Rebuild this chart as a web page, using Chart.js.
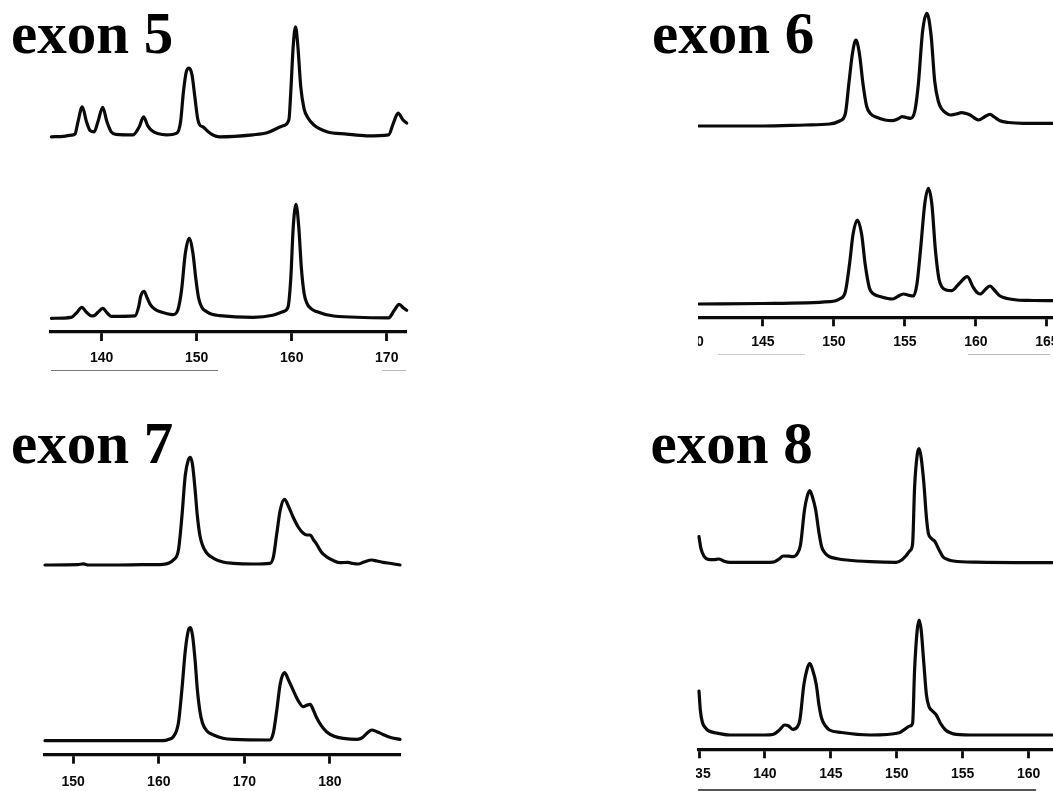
<!DOCTYPE html>
<html><head><meta charset="utf-8">
<script src="https://cdn.jsdelivr.net/npm/chart.js@4.4.1/dist/chart.umd.min.js"></script>
<style>
html,body{margin:0;padding:0;background:#fff;overflow:hidden;width:1053px;height:791px;}
.panel{position:absolute;overflow:hidden;}
.panel canvas{position:absolute;}
.title{position:absolute;font:bold 59px "Liberation Serif","Times New Roman",serif;line-height:59px;color:#000;white-space:nowrap;}
.scan{position:absolute;height:1px;background:#999;}
</style></head><body>

<div class="title" style="left:11px;top:3.9px">exon 5</div>
<div class="title" style="left:652px;top:3.9px">exon 6</div>
<div class="title" style="left:11px;top:413.9px">exon 7</div>
<div class="title" style="left:650.5px;top:413.9px">exon 8</div>

<div class="scan" style="left:51px;top:370px;width:167px;background:#777"></div>
<div class="scan" style="left:382px;top:370px;width:24px;background:#bbb"></div>
<div class="scan" style="left:718px;top:354px;width:87px;background:#ccc"></div>
<div class="scan" style="left:968px;top:354px;width:82px;background:#bbb"></div>
<div class="scan" style="left:698px;top:789px;width:338px;height:2px;background:#555"></div>

<div class="panel" id="p5" style="left:0;top:0;width:420px;height:395px"><canvas id="c5" width="420" height="395" style="left:0;top:0"></canvas></div>
<div class="panel" id="p6" style="left:698px;top:0;width:355px;height:395px"><canvas id="c6" width="409" height="395" style="left:-26.3px;top:0"></canvas></div>
<div class="panel" id="p7" style="left:0;top:400px;width:420px;height:391px"><canvas id="c7" width="420" height="391" style="left:0;top:0"></canvas></div>
<div class="panel" id="p8" style="left:695.5px;top:400px;width:357.5px;height:391px"><canvas id="c8" width="396" height="391" style="left:-16.5px;top:0"></canvas></div>

<script>
// ---------- DATA (fragment size in bp vs. relative signal) ----------
// exon 5
const e5Ticks = [140, 150, 160, 170];
const e5UpperX = [134.7,136.0,136.8,137.2,137.5,137.95,138.4,138.8,139.2,139.6,140.1,140.55,141.0,141.5,143.3,143.95,144.4,144.85,145.3,146.0,146.8,147.9,148.3,148.6,148.9,149.2,149.5,149.8,150.1,150.3,150.7,151.1,151.5,152.4,155.9,157.4,159.1,159.7,159.9,160.15,160.4,160.65,160.95,161.3,161.7,162.3,163.7,165.8,167.9,170.2,170.7,171.2,171.7,172.1];
const e5UpperY = [0,0.5,1.7,3,15,30,15,6,5,15,29.5,15,5,2.5,2,10,20,11,6,3,2,3.7,15,45,65,68.7,62,40,18,12,9.7,6,3,0,2,4,11,17,45,90,110,90,50,28,19,12,5,2.7,1,2,13.7,23.7,17,13.7];
const e5LowerX = [134.7,136.8,137.4,137.9,138.4,138.9,139.2,139.6,140.1,140.6,141.0,143.5,143.9,144.1,144.45,144.8,145.1,145.6,146.1,147.5,148.0,148.4,148.8,149.2,149.6,149.9,150.2,150.6,151.0,151.6,152.4,155.9,158.0,159.1,159.6,159.9,160.15,160.45,160.75,161.0,161.3,161.6,162.0,162.6,164.4,170.2,170.8,171.3,171.8,172.1];
const e5LowerY = [0,1,6,11,6,2.5,2.7,6,10,5,2,2.5,12,22,27,20,14,9,6.7,3.7,8,28,65,80,65,40,20,10,7,4,2.7,1,3,6.7,11,40,90,114,90,52,25,15,10,6.7,2.3,0.5,8,14,10,8];

// exon 6
const e6Ticks = [140, 145, 150, 155, 160, 165];
const e6UpperX = [140.46,145.0,148.0,149.7,150.4,150.8,151.05,151.3,151.55,151.8,152.05,152.3,152.6,153.0,153.6,154.1,154.5,154.8,155.1,155.4,155.7,155.95,156.25,156.55,156.85,157.1,157.35,157.6,157.9,158.2,158.6,159.0,159.3,159.6,159.9,160.2,160.6,161.0,161.3,161.7,162.3,163.35,165.44];
const e6UpperY = [0,0,1,2,5,12,42,72,86,72,42,20,12,8.7,6,5.3,7,9.3,8.5,7.7,15,42,95,112.7,90,45,25,17,13,11,12,13.3,12.5,11,8,6,9,11.7,9,5.3,3.5,2.7,2.7];
const e6LowerX = [140.46,145.0,149.7,150.4,150.8,151.1,151.35,151.65,151.95,152.2,152.5,152.8,153.3,154.1,154.5,154.9,155.2,155.6,155.85,156.1,156.4,156.65,156.9,157.15,157.4,157.6,157.9,158.3,158.8,159.4,159.8,160.05,160.3,160.7,161.0,161.3,161.7,162.2,162.9,164.0,165.44];
const e6LowerY = [0,0.5,2.3,5,12,40,70,84,70,40,16,10,7.3,5,7.5,10,9,8,20,54,100,115.7,100,54,25,17.3,14,13.3,20,27.3,17,12,10,15,18,14,8,5.5,4,3.5,3.3];

// exon 7
const e7Ticks = [150, 160, 170, 180];
const e7UpperX = [146.7,150.5,151.2,151.8,155.0,158.0,160.5,161.2,161.7,162.3,162.7,163.1,163.45,163.7,163.95,164.25,164.5,164.8,165.1,165.6,166.4,167.5,168.7,171.0,173.0,173.4,173.8,174.2,174.7,175.2,175.7,176.3,176.9,177.3,177.7,178.1,178.4,179.0,179.6,180.4,181.2,182.1,182.7,183.3,184.0,184.9,185.5,186.2,187.2,188.2];
const e7UpperY = [0,0.3,1.2,0,0,0.3,0.7,2,5,15,48,90,105,107.7,100,75,50,30,20,12,6.7,3,1.7,1,1.7,8,31.7,55,65.7,58,48,38,31.7,30,30,25,21.7,13,8.3,4.5,2.3,2.7,1.5,1,3,5,4,2.7,1.5,0];
const e7LowerX = [146.7,153.0,158.0,160.5,161.2,161.7,162.3,162.7,163.1,163.45,163.7,163.95,164.25,164.5,164.8,165.1,165.6,166.4,167.5,168.7,173.0,173.4,173.8,174.2,174.7,175.2,175.7,176.3,176.9,177.3,177.7,178.1,178.4,179.0,179.6,180.5,181.6,183.2,183.8,184.4,184.9,185.5,186.2,187.2,188.2];
const e7LowerY = [0,0,0,0,1.5,4,18,50.7,90,110,113,105,80,52,30,18,10,5.7,2.5,1.3,0.7,8,30.7,57,68,60,50.7,40,34,35.5,36.3,30,24,15,9,4.5,2.3,1.3,3,8,10.7,9,6.3,3,1.3];

// exon 8
const e8Ticks = [135, 140, 145, 150, 155, 160];
const e8UpperX = [135.0,135.15,135.4,135.7,136.1,136.5,136.9,137.35,140.0,140.6,141.0,141.4,141.8,142.1,142.45,142.7,143.0,143.2,143.4,143.6,143.85,144.1,144.3,144.6,144.9,145.5,146.2,148.0,149.95,150.4,150.7,151.0,151.2,151.35,151.55,151.7,151.85,152.05,152.25,152.4,152.65,152.9,153.2,153.5,153.9,154.3,156.0,161.8];
const e8UpperY = [26,14,6,3.3,3,3.7,1.5,0.3,0.3,0.5,3,6.7,6.5,6,9,18,52.7,66,72,66,52.7,30,16,9,6,4,2.7,1,0.3,3,7,12,19,75,108,114,105,80,45,29,24,21,13,6,3,1.7,0.5,0];
const e8LowerX = [135.0,135.1,135.25,135.5,135.75,136.3,137.35,140.0,140.6,141.1,141.5,141.8,142.1,142.45,142.65,142.95,143.2,143.4,143.6,143.9,144.1,144.3,144.6,144.9,145.8,148.0,150.2,150.7,151.0,151.2,151.35,151.55,151.7,151.85,152.05,152.25,152.45,152.7,153.0,153.3,153.7,154.1,154.5,156.0,161.8];
const e8LowerY = [44,25,13,7,4,2,0,0,0.5,5,10,9,5.7,8,15,50,66,71.7,66,50,30,16.7,9,5,2.5,0,2.3,6.7,9,11.7,65,105,115,105,72,40,28.3,24,20,12,5,2,0.7,0,0];

// ---------- RENDERING ----------
const AXIS_H = 32;
const INK = '#0a0a0a';
function pts(xs, ys) { return xs.map((x, i) => ({ x: x, y: ys[i] })); }

function makePanel(id, lay, ticks, ux, uy, lx, ly) {
  const cv = document.getElementById(id);
  const H = cv.height;
  const T = lay.padT;
  const B = H - lay.padB - AXIS_H;
  const yRange = (base) => { const mn = -(B - base); return { min: mn, max: mn + (B - T) }; };
  const ru = yRange(lay.baseU), rl = yRange(lay.baseL);
  const ds = (data, axis) => ({
    data: data, yAxisID: axis, showLine: true, borderColor: INK, borderWidth: 3.2,
    pointRadius: 0, cubicInterpolationMode: 'monotone', fill: false, clip: false,
    borderJoinStyle: 'round', borderCapStyle: 'round'
  });
  new Chart(cv, {
    type: 'scatter',
    data: { datasets: [ds(pts(ux, uy), 'yU'), ds(pts(lx, ly), 'yL')] },
    options: {
      responsive: false, animation: false, devicePixelRatio: 1,
      layout: { padding: { left: lay.padL, right: lay.padR, top: lay.padT, bottom: lay.padB } },
      plugins: { legend: { display: false }, tooltip: { enabled: false }, title: { display: false } },
      scales: {
        x: {
          type: 'linear', position: 'bottom', min: lay.xmin, max: lay.xmax,
          afterBuildTicks: (s) => { s.ticks = ticks.map(v => ({ value: v })); },
          afterFit: (s) => { s.height = AXIS_H; },
          border: { display: true, color: INK, width: 3.2 },
          grid: { display: true, drawOnChartArea: false, drawTicks: true, tickLength: 9, tickWidth: 2.8, tickColor: INK, color: INK },
          ticks: { autoSkip: false, maxRotation: 0, minRotation: 0, padding: lay.tickPad, color: INK,
                   font: { family: '"Liberation Sans", Arial, sans-serif', size: 14, weight: 'bold' },
                   callback: (v) => String(v) }
        },
        yU: { type: 'linear', display: false, min: ru.min, max: ru.max },
        yL: { type: 'linear', display: false, min: rl.min, max: rl.max }
      }
    }
  });
}

makePanel('c5', { padL: 50.7, padR: 13.3, padT: 10, padB: 31, baseU: 136.8, baseL: 318.3, xmin: 134.63, xmax: 172.1, tickPad: 9 },
  e5Ticks, e5UpperX, e5UpperY, e5LowerX, e5LowerY);
makePanel('c6', { padL: 20, padR: 20, padT: 5, padB: 45.7, baseU: 126, baseL: 304, xmin: 140, xmax: 166, tickPad: 7 },
  e6Ticks, e6UpperX, e6UpperY, e6LowerX, e6LowerY);
makePanel('c7', { padL: 45, padR: 20, padT: 10, padB: 4.3, baseU: 165, baseL: 340.7, xmin: 146.7, xmax: 188.2, tickPad: 10 },
  e7Ticks, e7UpperX, e7UpperY, e7LowerX, e7LowerY);
makePanel('c8', { padL: 20, padR: 20, padT: 10, padB: 9.7, baseU: 162.7, baseL: 335, xmin: 135, xmax: 162, tickPad: 7 },
  e8Ticks, e8UpperX, e8UpperY, e8LowerX, e8LowerY);
</script>
</body></html>
